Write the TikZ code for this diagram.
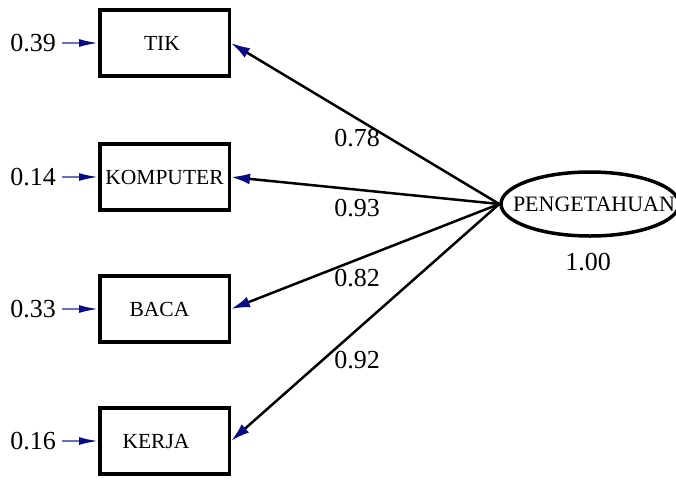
\documentclass[tikz,border=0pt]{standalone}
\usepackage{fontspec}
\setmainfont{Liberation Serif}
\usetikzlibrary{arrows.meta,shapes.geometric}
\definecolor{headblue}{RGB}{10,10,130}
\definecolor{errline}{RGB}{110,110,190}
\begin{document}
\begin{tikzpicture}[x=1pt,y=-1pt,
  obs/.style={draw,line width=3.5pt,minimum width=129.5pt,minimum height=66pt,inner sep=0pt,font=\fontsize{21.5}{25}\selectfont},
  lat/.style={ellipse,draw,line width=3.5pt,minimum width=178pt,minimum height=64pt,inner sep=0pt},
  lattext/.style={inner sep=0pt,font=\fontsize{22}{25}\selectfont},
  num/.style={font=\fontsize{26}{30}\selectfont,inner sep=0pt},
  load/.style={line width=2.5pt,-{Latex[length=19pt,width=11pt,color=headblue]}},
  err/.style={line width=1.8pt,errline,shorten <=6pt,-{Latex[length=19pt,width=8pt,color=headblue]}}]
\useasboundingbox (0,0) rectangle (676,480);
\clip (0,0) rectangle (676,480);
% observed variables
\node[obs] (tik) at (164.5,43) {TIK\hspace*{5pt}};
\node[obs] (kom) at (164.5,177) {KOMPUTER};
\node[obs] (baca) at (164.5,309) {BACA\hspace*{10pt}};
\node[obs] (kerja) at (164.5,441) {KERJA\hspace*{17pt}};
% latent variable
\node[lat] (p) at (590,204) {};
\node[lattext,xshift=4pt] (pt) at (p.center) {PENGETAHUAN};
\node[num] (pv) at (588,262) {1.00};
% error variances
\node[num,anchor=east] (e1) at (56,43) {0.39};
\node[num,anchor=east] (e2) at (56,177) {0.14};
\node[num,anchor=east] (e3) at (56,309) {0.33};
\node[num,anchor=east] (e4) at (56,441) {0.16};
\draw[err] (e1.east) -- (tik.west);
\draw[err] (e2.east) -- (kom.west);
\draw[err] (e3.east) -- (baca.west);
\draw[err] (e4.east) -- (kerja.west);
% loadings
\draw[load] (p.west) -- (tik.east);
\draw[load] (p.west) -- (kom.east);
\draw[load] (p.west) -- (baca.east);
\draw[load] (p.west) -- (kerja.east);
\node[num] (l1) at (357,138) {0.78};
\node[num] (l2) at (357,208) {0.93};
\node[num] (l3) at (357,278) {0.82};
\node[num] (l4) at (357,360) {0.92};
\end{tikzpicture}
\end{document}
